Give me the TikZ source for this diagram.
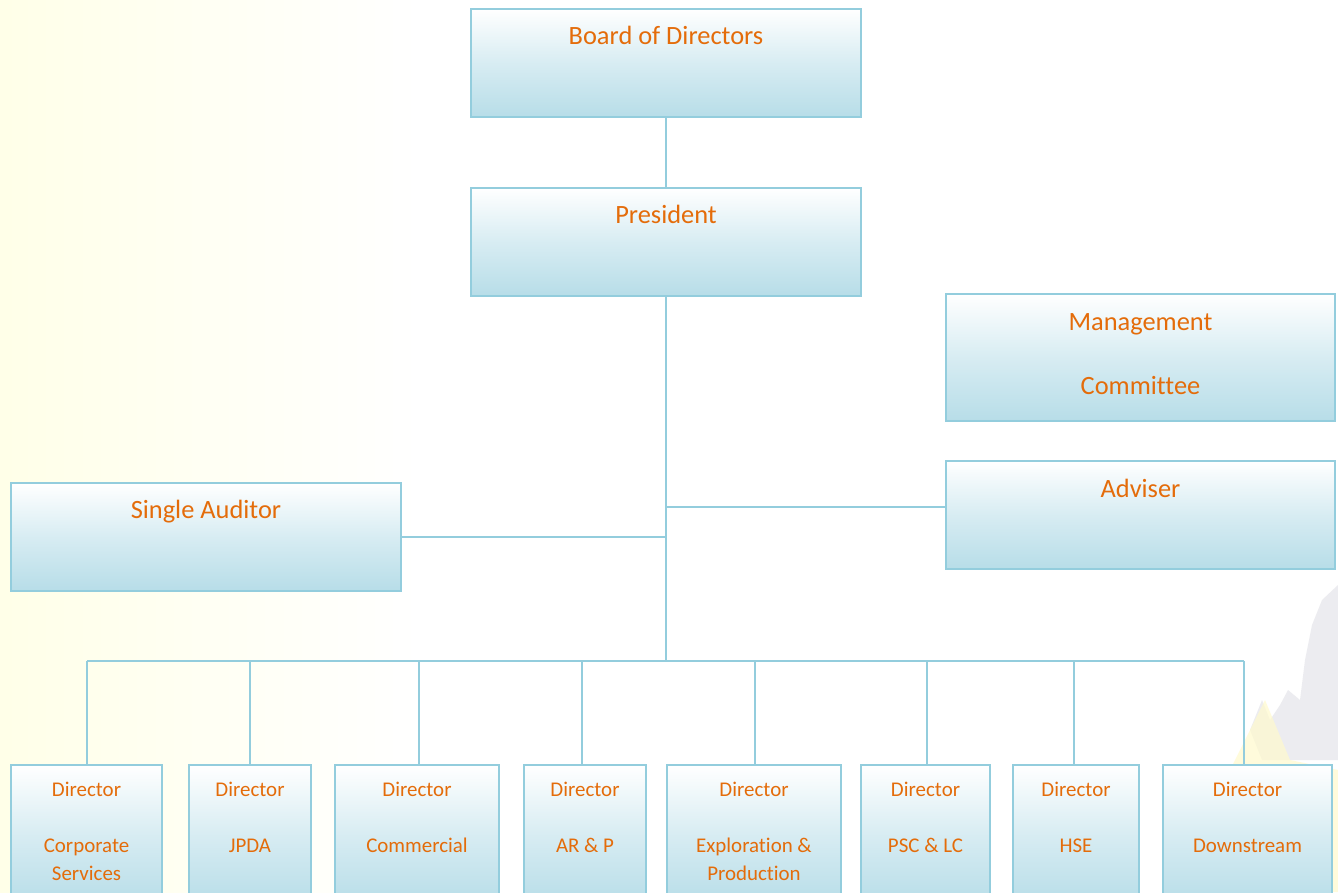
\documentclass[tikz,border=0pt]{standalone}
\usepackage{fontspec}
\setmainfont{Carlito}[Ligatures={NoCommon}]
\usetikzlibrary{calc}
\definecolor{lineblue}{RGB}{147,205,221}
\definecolor{fillblue}{RGB}{183,221,232}
\definecolor{txtorange}{RGB}{228,108,10}
\definecolor{paleyellow}{RGB}{255,255,232}
\definecolor{wmgray}{RGB}{215,215,222}
\definecolor{wmyellow}{RGB}{255,250,205}
\newcommand{\obox}[5]{\node[orgbox, minimum width=#4bp, minimum height=#5bp] (#1) at (#2,#3) {};}
\begin{document}
\begin{tikzpicture}[x=1bp,y=-1bp,
  orgbox/.style={draw=lineblue, line width=2.6bp, top color=white, bottom color=fillblue, middle color=fillblue!55, inner sep=0pt, outer sep=0pt, anchor=north west},
  bigtxt/.style={text=txtorange, font=\fontsize{26.5}{32}\selectfont, anchor=base, inner sep=0pt},
  smalltxt/.style={text=txtorange, font=\fontsize{21}{26}\selectfont, anchor=base, inner sep=0pt},
  conn/.style={draw=lineblue, line width=2.6bp}]
\useasboundingbox (0,0) rectangle (1338,892);
\clip (0,0) rectangle (1338,892);
% background
\fill[white] (0,0) rectangle (1338,892);
\shade[left color=paleyellow, right color=white] (0,0) rectangle (420,892);
\fill[paleyellow] (0,0) rectangle (12,892);
% faint watermark, bottom right
\fill[wmgray, opacity=0.45] (1338,585) -- (1322,600) -- (1312,625) -- (1305,660) -- (1300,700) -- (1288,690) -- (1280,705) -- (1270,720) -- (1262,700) -- (1250,730) -- (1262,760) -- (1338,760) -- cycle;
\fill[wmyellow, opacity=0.7] (1190,892) -- (1230,770) -- (1265,700) -- (1290,760) -- (1338,770) -- (1338,892) -- cycle;
% boxes
\obox{bod}{471}{9}{390}{108}
\obox{pres}{471}{188}{390}{108}
\obox{mc}{946}{294}{389}{127}
\obox{adv}{946}{461}{389}{108}
\obox{sa}{11}{483}{390}{108}
\obox{d1}{11}{765}{151}{140}
\obox{d2}{189}{765}{122}{140}
\obox{d3}{335}{765}{164}{140}
\obox{d4}{524}{765}{122}{140}
\obox{d5}{667}{765}{174}{140}
\obox{d6}{861}{765}{129}{140}
\obox{d7}{1013}{765}{126}{140}
\obox{d8}{1163}{765}{169}{140}
% texts
\node[bigtxt] (tbod) at ($(bod.north)+(0,35)$) {Board of Directors};
\node[bigtxt] (tpres) at ($(pres.north)+(0,35)$) {President};
\node[bigtxt] (tmc1) at ($(mc.north)+(0,36)$) {Management};
\node[bigtxt] (tmc2) at ($(mc.north)+(0,100)$) {Committee};
\node[bigtxt] (tadv) at ($(adv.north)+(0,36)$) {Adviser};
\node[bigtxt] (tsa) at ($(sa.north)+(0,35)$) {Single Auditor};
\foreach \n/\a/\b in {d1/Corporate/Services, d2/JPDA/, d3/Commercial/, d4/AR \& P/, d5/Exploration \&/Production, d6/PSC \& LC/, d7/HSE/, d8/Downstream/}{
  \node[smalltxt] (\n t0) at ($(\n.north)+(0,31)$) {Director};
  \node[smalltxt] (\n t1) at ($(\n.north)+(0,87)$) {\a};
  \node[smalltxt] (\n t2) at ($(\n.north)+(0,115)$) {\b};
}
% connectors
\coordinate (trunkend) at ($(pres.south)+(0,364)$);
\draw[conn] (bod.south) -- (pres.north);
\draw[conn] (pres.south) -- (trunkend);
\coordinate (jadv) at ($(pres.south)+(0,211)$);
\draw[conn] (jadv) -- (jadv -| adv.west);
\draw[conn] (sa.east) -- (sa.east -| pres.south);
\coordinate (busl) at (87,661);
\coordinate (busr) at (1244,661);
\draw[conn] (busl) -- (busr);
\foreach \n/\x in {d1/87, d2/250, d3/419, d4/582, d5/755, d6/927, d7/1074, d8/1244}{
  \coordinate (k\n) at (\x,661);
  \draw[conn] (k\n) -- (k\n |- \n.north);
}
\end{tikzpicture}
\end{document}
